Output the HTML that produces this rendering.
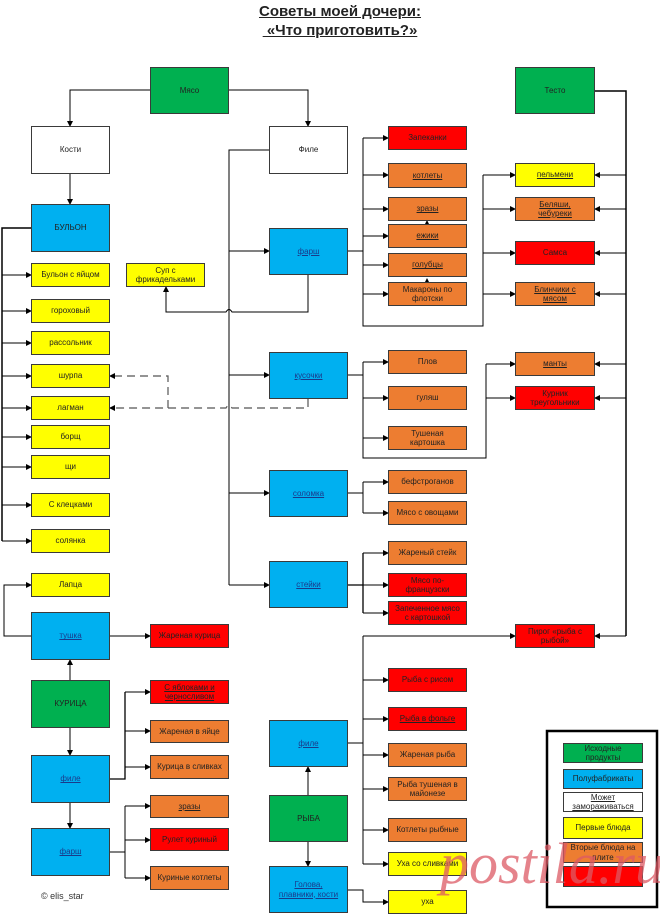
<!DOCTYPE html>
<html><head><meta charset="utf-8"><style>
body{margin:0;width:660px;height:915px;background:#fff;position:relative;overflow:hidden;font-family:"Liberation Sans",sans-serif}
.b{position:absolute;box-sizing:border-box;border:1px solid #3a3a3a;display:flex;align-items:center;justify-content:center;text-align:center;font-size:8px;line-height:1.15;color:#222}
.g{background:#00b050}.bl{background:#00b0f0}.y{background:#ffff00}.o{background:#ed7d31}.r{background:#f00}.w{background:#fff}
.u{text-decoration:underline}.bl.u{color:#1a3a8a}
svg{position:absolute;left:0;top:0}
.t{position:absolute;left:0;width:680px;text-align:center;font-weight:bold;font-size:15px;text-decoration:underline;color:#222}
</style></head><body>
<div class="t" style="top:3px">Советы моей дочери:</div>
<div class="t" style="top:22px">&nbsp;«Что приготовить?»</div>

<svg width="660" height="915">
<defs><marker id="a" markerWidth="6" markerHeight="6" refX="5" refY="3" orient="auto" markerUnits="userSpaceOnUse"><path d="M0,0L6,3L0,6z" fill="#000"/></marker></defs>
<g stroke="#000" stroke-width="1" fill="none">
<path d="M150,90H70V126" marker-end="url(#a)"/>
<path d="M229,90H308V126" marker-end="url(#a)"/>
<path d="M70,174V204" marker-end="url(#a)"/>
<path d="M31,228H2V541" stroke-width="1.5"/>
<path d="M2,275H31" marker-end="url(#a)"/><path d="M2,311H31" marker-end="url(#a)"/><path d="M2,343H31" marker-end="url(#a)"/><path d="M2,376H31" marker-end="url(#a)"/><path d="M2,408H31" marker-end="url(#a)"/><path d="M2,437H31" marker-end="url(#a)"/><path d="M2,467H31" marker-end="url(#a)"/><path d="M2,505H31" marker-end="url(#a)"/><path d="M2,541H31" marker-end="url(#a)"/>
<path d="M269,150H229V585"/>
<path d="M229,251H269" marker-end="url(#a)"/><path d="M229,375H269" marker-end="url(#a)"/><path d="M229,493H269" marker-end="url(#a)"/><path d="M229,585H269" marker-end="url(#a)"/>
<path d="M308,275V312H232q-3,-5 -6,0H166V287" marker-end="url(#a)"/>
<path d="M348,251H363M363,138V326H483V175"/>
<path d="M363,138H388" marker-end="url(#a)"/><path d="M363,175H388" marker-end="url(#a)"/><path d="M363,209H388" marker-end="url(#a)"/><path d="M363,236H388" marker-end="url(#a)"/><path d="M363,265H388" marker-end="url(#a)"/><path d="M363,294H388" marker-end="url(#a)"/>
<path d="M427,224V221" marker-end="url(#a)"/><path d="M427,282V279" marker-end="url(#a)"/>
<path d="M483,175H515" marker-end="url(#a)"/><path d="M483,209H515" marker-end="url(#a)"/><path d="M483,253H515" marker-end="url(#a)"/><path d="M483,294H515" marker-end="url(#a)"/>
<path d="M595,91H626V636" stroke-width="1.5"/>
<path d="M626,175H595" marker-end="url(#a)"/><path d="M626,209H595" marker-end="url(#a)"/><path d="M626,253H595" marker-end="url(#a)"/><path d="M626,294H595" marker-end="url(#a)"/><path d="M626,364H595" marker-end="url(#a)"/><path d="M626,398H595" marker-end="url(#a)"/><path d="M626,636H595" marker-end="url(#a)"/>
<path d="M348,375H363M363,362V458H486V364"/>
<path d="M363,362H388" marker-end="url(#a)"/><path d="M363,398H388" marker-end="url(#a)"/><path d="M363,438H388" marker-end="url(#a)"/>
<path d="M486,364H515" marker-end="url(#a)"/><path d="M486,398H515" marker-end="url(#a)"/>
<path d="M348,493H363M363,482V513"/><path d="M363,482H388" marker-end="url(#a)"/><path d="M363,513H388" marker-end="url(#a)"/>
<path d="M348,585H363M363,553V613" stroke-width="1.3"/><path d="M363,553H388" marker-end="url(#a)"/><path d="M363,585H388" marker-end="url(#a)"/><path d="M363,613H388" marker-end="url(#a)"/>
<path d="M31,636H4V585H31" marker-end="url(#a)"/>
<path d="M110,636H150" marker-end="url(#a)"/>
<path d="M70,680V660" marker-end="url(#a)"/><path d="M70,728V755" marker-end="url(#a)"/><path d="M70,803V828" marker-end="url(#a)"/>
<path d="M110,779H125V692" stroke-width="1.3"/><path d="M125,692H150" marker-end="url(#a)"/><path d="M125,731H150" marker-end="url(#a)"/><path d="M125,767H150" marker-end="url(#a)"/>
<path d="M110,852H125M125,806V878"/><path d="M125,806H150" marker-end="url(#a)"/><path d="M125,840H150" marker-end="url(#a)"/><path d="M125,878H150" marker-end="url(#a)"/>
<path d="M348,743H363M363,636V864"/><path d="M363,636H515" marker-end="url(#a)"/>
<path d="M363,680H388" marker-end="url(#a)"/><path d="M363,719H388" marker-end="url(#a)"/><path d="M363,755H388" marker-end="url(#a)"/><path d="M363,789H388" marker-end="url(#a)"/><path d="M363,830H388" marker-end="url(#a)"/><path d="M363,864H388" marker-end="url(#a)"/>
<path d="M308,795V767" marker-end="url(#a)"/><path d="M308,842V866" marker-end="url(#a)"/>
<path d="M348,890H363V902H388" marker-end="url(#a)"/>
</g>
<g stroke="#555" stroke-width="1.2" fill="none" stroke-dasharray="8,5">
<path d="M308,399V408H232q-3,-5 -6,0H110" marker-end="url(#a)"/>
<path d="M168,408V376H110" marker-end="url(#a)"/>
</g>
<rect x="547" y="731" width="110" height="176" fill="none" stroke="#000" stroke-width="2.5"/>
</svg>

<div class="b g" style="left:150px;top:67px;width:79px;height:47px">Мясо</div>
<div class="b g" style="left:515px;top:67px;width:80px;height:47px">Тесто</div>
<div class="b w" style="left:31px;top:126px;width:79px;height:48px">Кости</div>
<div class="b w" style="left:269px;top:126px;width:79px;height:48px">Филе</div>
<div class="b bl" style="left:31px;top:204px;width:79px;height:48px">БУЛЬОН</div>
<div class="b bl u" style="left:269px;top:228px;width:79px;height:47px">фарш</div>
<div class="b y" style="left:126px;top:263px;width:79px;height:24px">Суп с<br>фрикадельками</div>

<div class="b y" style="left:31px;top:263px;width:79px;height:24px">Бульон с яйцом</div>
<div class="b y" style="left:31px;top:299px;width:79px;height:24px">гороховый</div>
<div class="b y" style="left:31px;top:331px;width:79px;height:24px">рассольник</div>
<div class="b y" style="left:31px;top:364px;width:79px;height:24px">шурпа</div>
<div class="b y" style="left:31px;top:396px;width:79px;height:24px">лагман</div>
<div class="b y" style="left:31px;top:425px;width:79px;height:24px">борщ</div>
<div class="b y" style="left:31px;top:455px;width:79px;height:24px">щи</div>
<div class="b y" style="left:31px;top:493px;width:79px;height:24px">С клецками</div>
<div class="b y" style="left:31px;top:529px;width:79px;height:24px">солянка</div>
<div class="b y" style="left:31px;top:573px;width:79px;height:24px">Лапца</div>

<div class="b bl u" style="left:31px;top:612px;width:79px;height:48px">тушка</div>
<div class="b r" style="left:150px;top:624px;width:79px;height:24px">Жареная курица</div>
<div class="b g" style="left:31px;top:680px;width:79px;height:48px">КУРИЦА</div>
<div class="b r u" style="left:150px;top:680px;width:79px;height:24px">С яблоками и<br>черносливом</div>
<div class="b o" style="left:150px;top:720px;width:79px;height:23px">Жареная в яйце</div>
<div class="b o" style="left:150px;top:755px;width:79px;height:24px">Курица в сливках</div>
<div class="b bl u" style="left:31px;top:755px;width:79px;height:48px">филе</div>
<div class="b o u" style="left:150px;top:795px;width:79px;height:23px">зразы</div>
<div class="b r" style="left:150px;top:828px;width:79px;height:23px">Рулет куриный</div>
<div class="b o" style="left:150px;top:866px;width:79px;height:24px">Куриные котлеты</div>
<div class="b bl u" style="left:31px;top:828px;width:79px;height:48px">фарш</div>
<div style="position:absolute;left:41px;top:891px;font-size:9px;color:#333">© elis_star</div>

<div class="b r" style="left:388px;top:126px;width:79px;height:24px">Запеканки</div>
<div class="b o u" style="left:388px;top:163px;width:79px;height:25px">котлеты</div>
<div class="b o u" style="left:388px;top:197px;width:79px;height:24px">зразы</div>
<div class="b o u" style="left:388px;top:224px;width:79px;height:24px">ежики</div>
<div class="b o u" style="left:388px;top:253px;width:79px;height:24px">голубцы</div>
<div class="b o" style="left:388px;top:282px;width:79px;height:24px">Макароны по<br>флотски</div>
<div class="b o" style="left:388px;top:350px;width:79px;height:24px">Плов</div>
<div class="b o" style="left:388px;top:386px;width:79px;height:24px">гуляш</div>
<div class="b o" style="left:388px;top:426px;width:79px;height:24px">Тушеная<br>картошка</div>
<div class="b o" style="left:388px;top:470px;width:79px;height:24px">бефстроганов</div>
<div class="b o" style="left:388px;top:501px;width:79px;height:24px">Мясо с овощами</div>
<div class="b o" style="left:388px;top:541px;width:79px;height:24px">Жареный стейк</div>
<div class="b r" style="left:388px;top:573px;width:79px;height:24px">Мясо по-<br>французски</div>
<div class="b r" style="left:388px;top:601px;width:79px;height:24px">Запеченное мясо<br>с картошкой</div>
<div class="b r" style="left:388px;top:668px;width:79px;height:24px">Рыба с рисом</div>
<div class="b r u" style="left:388px;top:707px;width:79px;height:24px">Рыба в фольге</div>
<div class="b o" style="left:388px;top:743px;width:79px;height:24px">Жареная рыба</div>
<div class="b o" style="left:388px;top:777px;width:79px;height:24px">Рыба тушеная в<br>майонезе</div>
<div class="b o" style="left:388px;top:818px;width:79px;height:24px">Котлеты рыбные</div>
<div class="b y" style="left:388px;top:852px;width:79px;height:24px">Уха со сливками</div>
<div class="b y" style="left:388px;top:890px;width:79px;height:24px">уха</div>

<div class="b bl u" style="left:269px;top:352px;width:79px;height:47px">кусочки</div>
<div class="b bl u" style="left:269px;top:470px;width:79px;height:47px">соломка</div>
<div class="b bl u" style="left:269px;top:561px;width:79px;height:47px">стейки</div>
<div class="b bl u" style="left:269px;top:720px;width:79px;height:47px">филе</div>
<div class="b g" style="left:269px;top:795px;width:79px;height:47px">РЫБА</div>
<div class="b bl u" style="left:269px;top:866px;width:79px;height:47px">Голова,<br>плавники, кости</div>

<div class="b y u" style="left:515px;top:163px;width:80px;height:24px">пельмени</div>
<div class="b o u" style="left:515px;top:197px;width:80px;height:24px">Беляши,<br>чебуреки</div>
<div class="b r" style="left:515px;top:241px;width:80px;height:24px">Самса</div>
<div class="b o u" style="left:515px;top:282px;width:80px;height:24px">Блинчики с<br>мясом</div>
<div class="b o u" style="left:515px;top:352px;width:80px;height:24px">манты</div>
<div class="b r" style="left:515px;top:386px;width:80px;height:24px">Курник<br>треугольники</div>
<div class="b r" style="left:515px;top:624px;width:80px;height:24px">Пирог «рыба с<br>рыбой»</div>

<div class="b g" style="left:563px;top:743px;width:80px;height:20px">Исходные<br>продукты</div>
<div class="b bl" style="left:563px;top:769px;width:80px;height:20px">Полуфабрикаты</div>
<div class="b w u" style="left:563px;top:792px;width:80px;height:20px">Может<br>замораживаться</div>
<div class="b y" style="left:563px;top:817px;width:80px;height:22px">Первые блюда</div>
<div class="b o" style="left:563px;top:842px;width:80px;height:21px">Вторые блюда на<br>плите</div>
<div class="b r" style="left:563px;top:866px;width:80px;height:21px;color:#900"></div>
<div style="position:absolute;left:440px;top:835px;font-family:'Liberation Serif',serif;font-style:italic;font-size:58px;color:rgba(220,90,100,0.75);line-height:1">postila.ru</div>
</body></html>
